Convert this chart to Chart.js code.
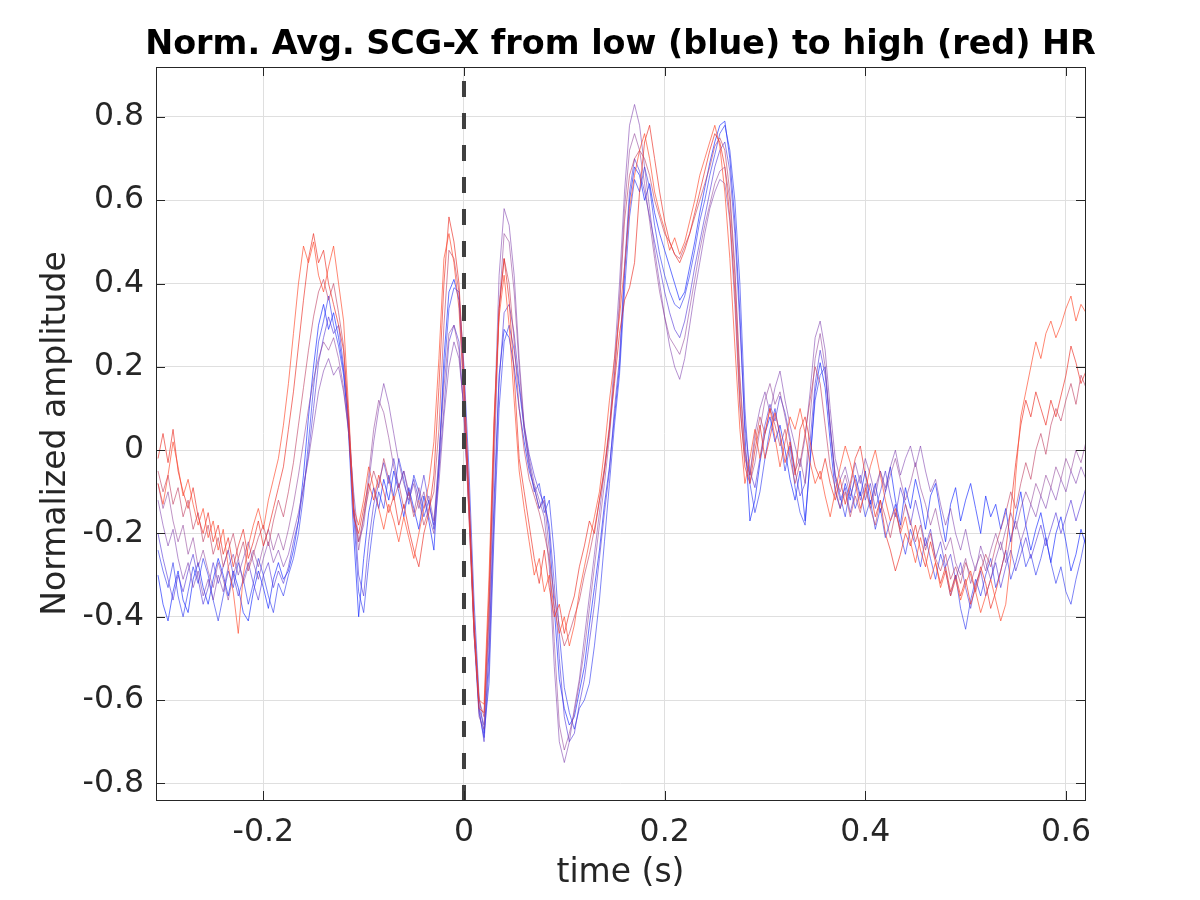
<!DOCTYPE html>
<html>
<head>
<meta charset="utf-8">
<script src="https://cdn.jsdelivr.net/npm/chart.js@4.4.1/dist/chart.umd.min.js"></script>
<style>
  html, body { margin: 0; padding: 0; background: #fff; }
  canvas { display: block; }
</style>
</head>
<body>
<canvas id="chart" width="1200" height="900"></canvas>
<script>
// sampling grid of the averaged beats (s)
const t0 = -0.305;
const dt = 0.005;

const titleText = "Norm. Avg. SCG-X from low (blue) to high (red) HR";
const xTicks = [-0.2, 0, 0.2, 0.4, 0.6];
const yTicks = [-0.8, -0.6, -0.4, -0.2, 0, 0.2, 0.4, 0.6, 0.8];

// low HR (blue) -> high HR (red)
const s0 = [
  -0.30,-0.37,-0.41,-0.34,-0.29,-0.36,-0.39,-0.31,-0.27,-0.33,
  -0.37,-0.31,-0.26,-0.30,-0.35,-0.29,-0.33,-0.39,-0.41,-0.34,
  -0.29,-0.33,-0.38,-0.31,-0.27,-0.31,-0.29,-0.24,-0.17,-0.06,
  0.08,0.20,0.30,0.35,0.29,0.33,0.27,0.19,0.04,-0.20,
  -0.40,-0.26,-0.15,-0.09,-0.14,-0.07,-0.12,-0.05,-0.10,-0.16,
  -0.09,-0.14,-0.19,-0.11,-0.17,-0.24,-0.04,0.22,0.38,0.41,
  0.36,0.14,-0.12,-0.44,-0.63,-0.69,-0.48,-0.12,0.18,0.29,
  0.27,0.20,0.10,0.02,-0.05,-0.09,-0.14,-0.11,-0.20,-0.38,
  -0.55,-0.62,-0.66,-0.64,-0.58,-0.52,-0.42,-0.33,-0.24,-0.13,
  -0.04,0.08,0.20,0.42,0.60,0.68,0.66,0.60,0.64,0.57,
  0.52,0.48,0.44,0.40,0.36,0.38,0.44,0.50,0.57,0.63,
  0.69,0.74,0.78,0.79,0.70,0.55,0.33,0.04,-0.17,-0.12,
  -0.03,0.04,0.08,0.02,0.06,0.00,-0.07,-0.12,-0.05,-0.17,
  -0.03,0.14,0.21,0.15,0.02,-0.10,-0.14,-0.08,-0.12,-0.06,
  -0.11,-0.05,-0.13,-0.08,-0.15,-0.10,-0.04,-0.12,-0.18,-0.09,
  -0.14,-0.07,-0.12,-0.19,-0.11,-0.08,-0.15,-0.22,-0.13,-0.09,
  -0.17,-0.12,-0.08,-0.14,-0.20,-0.11,-0.16,-0.13,-0.19,-0.14,
  -0.22,-0.16,-0.10,-0.18,-0.24,-0.19,-0.15,-0.21,-0.27,-0.20,
  -0.16,-0.22,-0.29,-0.25,-0.19,-0.23
];
const s1 = [
  -0.24,-0.29,-0.33,-0.27,-0.35,-0.40,-0.34,-0.28,-0.32,-0.26,
  -0.30,-0.36,-0.41,-0.35,-0.29,-0.33,-0.27,-0.31,-0.37,-0.32,
  -0.26,-0.30,-0.35,-0.39,-0.32,-0.35,-0.30,-0.26,-0.20,-0.11,
  0.02,0.15,0.26,0.31,0.37,0.30,0.25,0.18,0.06,-0.15,
  -0.34,-0.39,-0.27,-0.17,-0.10,-0.14,-0.06,-0.11,-0.02,-0.07,
  -0.13,-0.06,-0.10,-0.16,-0.12,-0.19,-0.02,0.18,0.34,0.39,
  0.38,0.20,-0.05,-0.36,-0.59,-0.68,-0.56,-0.20,0.10,0.26,
  0.30,0.24,0.15,0.05,-0.03,-0.10,-0.08,-0.15,-0.12,-0.25,
  -0.44,-0.57,-0.63,-0.67,-0.62,-0.60,-0.56,-0.47,-0.36,-0.22,
  -0.08,0.06,0.18,0.38,0.56,0.65,0.62,0.68,0.63,0.54,
  0.47,0.42,0.38,0.35,0.34,0.37,0.42,0.48,0.55,0.60,
  0.66,0.71,0.76,0.78,0.72,0.60,0.40,0.10,-0.08,-0.15,
  -0.10,-0.02,0.05,0.10,0.03,-0.05,0.01,-0.09,-0.15,-0.18,
  -0.02,0.12,0.18,0.20,0.05,-0.06,-0.11,-0.16,-0.09,-0.14,
  -0.10,-0.16,-0.12,-0.19,-0.14,-0.21,-0.17,-0.13,-0.20,-0.25,
  -0.19,-0.23,-0.28,-0.21,-0.26,-0.31,-0.25,-0.29,-0.35,-0.30,
  -0.38,-0.43,-0.36,-0.31,-0.35,-0.30,-0.26,-0.33,-0.29,-0.24,
  -0.31,-0.27,-0.22,-0.28,-0.25,-0.30,-0.26,-0.21,-0.27,-0.32,
  -0.28,-0.34,-0.37,-0.31,-0.26,-0.20
];
const s2 = [
  -0.20,-0.26,-0.31,-0.36,-0.30,-0.34,-0.29,-0.25,-0.31,-0.37,
  -0.33,-0.27,-0.32,-0.28,-0.24,-0.30,-0.35,-0.31,-0.27,-0.32,
  -0.36,-0.30,-0.27,-0.33,-0.29,-0.32,-0.28,-0.22,-0.17,-0.09,
  -0.01,0.10,0.21,0.27,0.32,0.28,0.30,0.20,0.08,-0.12,
  -0.30,-0.35,-0.22,-0.13,-0.08,-0.03,-0.08,-0.02,-0.09,-0.05,
  -0.11,-0.07,-0.12,-0.06,-0.13,-0.18,-0.05,0.10,0.26,0.30,
  0.26,0.08,-0.14,-0.42,-0.62,-0.70,-0.52,-0.16,0.16,0.33,
  0.35,0.28,0.16,0.06,-0.01,-0.06,-0.10,-0.13,-0.18,-0.32,
  -0.50,-0.64,-0.70,-0.68,-0.61,-0.55,-0.46,-0.37,-0.26,-0.15,
  -0.05,0.10,0.22,0.44,0.62,0.70,0.67,0.62,0.56,0.50,
  0.44,0.38,0.33,0.29,0.27,0.31,0.37,0.44,0.50,0.56,
  0.62,0.68,0.72,0.74,0.67,0.52,0.30,0.06,-0.05,-0.09,
  -0.02,0.06,0.11,0.07,0.13,0.09,0.03,-0.05,-0.11,-0.08,
  0.02,0.16,0.24,0.18,0.06,-0.07,-0.12,-0.09,-0.15,-0.10,
  -0.06,-0.12,-0.08,-0.14,-0.10,-0.05,-0.11,-0.16,-0.09,-0.13,
  -0.18,-0.12,-0.17,-0.23,-0.19,-0.26,-0.22,-0.28,-0.25,-0.31,
  -0.27,-0.33,-0.38,-0.32,-0.29,-0.35,-0.31,-0.27,-0.33,-0.28,
  -0.24,-0.29,-0.25,-0.21,-0.26,-0.22,-0.18,-0.23,-0.19,-0.15,
  -0.20,-0.16,-0.12,-0.17,-0.13,-0.09
];
const s3 = [
  -0.12,-0.18,-0.23,-0.19,-0.26,-0.31,-0.27,-0.33,-0.29,-0.35,
  -0.31,-0.36,-0.30,-0.34,-0.28,-0.25,-0.30,-0.26,-0.22,-0.27,
  -0.31,-0.26,-0.22,-0.27,-0.24,-0.28,-0.25,-0.20,-0.15,-0.09,
  -0.02,0.06,0.14,0.19,0.22,0.18,0.20,0.14,0.05,-0.10,
  -0.22,-0.18,-0.08,0.02,0.10,0.16,0.11,0.04,-0.03,-0.08,
  -0.12,-0.08,-0.14,-0.10,-0.16,-0.20,-0.08,0.08,0.20,0.26,
  0.22,0.10,-0.15,-0.42,-0.62,-0.66,-0.40,0.05,0.42,0.58,
  0.54,0.42,0.22,0.06,-0.02,-0.08,-0.12,-0.16,-0.28,-0.52,
  -0.70,-0.75,-0.70,-0.62,-0.55,-0.45,-0.35,-0.25,-0.15,-0.05,
  0.05,0.22,0.40,0.62,0.78,0.83,0.78,0.68,0.58,0.48,
  0.40,0.32,0.25,0.20,0.17,0.22,0.30,0.38,0.45,0.52,
  0.58,0.62,0.65,0.64,0.55,0.35,0.10,-0.02,-0.06,0.04,
  0.10,0.14,0.09,0.15,0.19,0.12,0.06,0.01,-0.04,0.03,
  0.14,0.27,0.31,0.24,0.10,-0.02,-0.07,-0.04,-0.09,-0.03,
  -0.08,-0.02,-0.06,-0.11,-0.05,-0.09,-0.04,0.00,-0.06,-0.02,
  0.01,-0.04,0.01,-0.05,-0.10,-0.07,-0.13,-0.18,-0.14,-0.20,
  -0.24,-0.19,-0.25,-0.29,-0.23,-0.27,-0.31,-0.26,-0.22,-0.27,
  -0.21,-0.17,-0.22,-0.18,-0.13,-0.16,-0.11,-0.14,-0.09,-0.12,
  -0.07,-0.10,-0.05,-0.08,-0.04,-0.07
];
const s4 = [
  -0.08,-0.14,-0.10,-0.17,-0.22,-0.18,-0.25,-0.21,-0.28,-0.24,
  -0.29,-0.33,-0.27,-0.31,-0.36,-0.30,-0.26,-0.32,-0.28,-0.24,
  -0.28,-0.23,-0.19,-0.24,-0.20,-0.24,-0.19,-0.13,-0.06,0.02,
  0.10,0.17,0.22,0.26,0.24,0.27,0.22,0.15,0.04,-0.14,
  -0.24,-0.16,-0.06,0.05,0.12,0.09,0.03,-0.04,-0.09,-0.05,
  -0.10,-0.15,-0.09,-0.14,-0.11,-0.17,-0.02,0.15,0.28,0.30,
  0.24,0.09,-0.16,-0.44,-0.64,-0.67,-0.44,-0.04,0.34,0.52,
  0.50,0.38,0.20,0.05,-0.04,-0.09,-0.14,-0.12,-0.24,-0.46,
  -0.66,-0.72,-0.68,-0.63,-0.56,-0.48,-0.38,-0.28,-0.18,-0.08,
  0.03,0.18,0.36,0.58,0.72,0.76,0.72,0.64,0.55,0.46,
  0.38,0.32,0.27,0.25,0.23,0.27,0.34,0.41,0.48,0.54,
  0.59,0.64,0.67,0.68,0.60,0.42,0.16,-0.01,-0.08,-0.03,
  0.05,0.12,0.16,0.11,0.14,0.08,0.02,-0.05,-0.02,-0.08,
  0.08,0.22,0.28,0.20,0.06,-0.06,-0.10,-0.06,-0.11,-0.07,
  -0.12,-0.08,-0.14,-0.09,-0.05,-0.10,-0.06,-0.02,-0.07,-0.12,
  -0.08,-0.03,-0.09,-0.13,-0.18,-0.14,-0.20,-0.24,-0.21,-0.27,
  -0.30,-0.26,-0.32,-0.28,-0.25,-0.29,-0.24,-0.20,-0.24,-0.19,
  -0.15,-0.19,-0.14,-0.10,-0.13,-0.08,-0.11,-0.06,-0.09,-0.04,
  -0.07,-0.02,-0.05,0.00,-0.03,0.02
];
const s5 = [
  -0.05,-0.10,-0.06,-0.13,-0.09,-0.16,-0.12,-0.19,-0.15,-0.22,
  -0.18,-0.25,-0.21,-0.28,-0.24,-0.20,-0.26,-0.22,-0.29,-0.25,
  -0.21,-0.18,-0.23,-0.17,-0.12,-0.16,-0.10,-0.03,0.06,0.15,
  0.24,0.32,0.38,0.41,0.36,0.40,0.33,0.25,0.08,-0.15,
  -0.22,-0.16,-0.10,-0.05,-0.09,-0.02,-0.07,-0.12,-0.08,-0.14,
  -0.10,-0.16,-0.12,-0.18,-0.14,-0.10,0.05,0.30,0.48,0.46,
  0.38,0.16,-0.10,-0.40,-0.60,-0.64,-0.38,0.02,0.34,0.46,
  0.40,0.26,0.10,0.00,-0.07,-0.11,-0.15,-0.20,-0.26,-0.35,
  -0.42,-0.47,-0.44,-0.40,-0.36,-0.30,-0.25,-0.19,-0.12,-0.04,
  0.06,0.18,0.34,0.55,0.66,0.70,0.72,0.70,0.66,0.60,
  0.56,0.52,0.50,0.47,0.46,0.49,0.52,0.56,0.60,0.64,
  0.68,0.73,0.75,0.72,0.62,0.44,0.18,0.00,-0.06,0.02,
  0.08,0.04,0.10,0.06,0.01,0.05,-0.02,-0.08,-0.03,0.04,
  0.12,0.20,0.16,0.06,-0.04,-0.09,-0.14,-0.10,-0.16,-0.11,
  -0.15,-0.09,-0.14,-0.18,-0.12,-0.16,-0.21,-0.15,-0.19,-0.13,
  -0.17,-0.22,-0.18,-0.24,-0.20,-0.26,-0.29,-0.25,-0.31,-0.28,
  -0.32,-0.27,-0.30,-0.34,-0.29,-0.25,-0.28,-0.23,-0.19,-0.15,
  -0.10,-0.14,-0.08,-0.03,-0.07,0.00,0.04,-0.01,0.06,0.10,
  0.07,0.12,0.16,0.11,0.18,0.15
];
const s6 = [
  -0.02,0.04,-0.03,0.05,-0.05,-0.10,-0.14,-0.09,-0.16,-0.20,
  -0.15,-0.22,-0.18,-0.25,-0.21,-0.28,-0.23,-0.19,-0.26,-0.22,
  -0.17,-0.23,-0.19,-0.14,-0.09,-0.04,0.05,0.14,0.25,0.36,
  0.46,0.52,0.45,0.48,0.40,0.35,0.30,0.24,0.06,-0.16,
  -0.20,-0.14,-0.08,-0.12,-0.06,-0.10,-0.15,-0.11,-0.18,-0.13,
  -0.19,-0.24,-0.28,-0.20,-0.15,-0.06,0.15,0.40,0.56,0.50,
  0.40,0.18,-0.12,-0.42,-0.62,-0.63,-0.34,0.06,0.34,0.46,
  0.36,0.18,-0.02,-0.10,-0.18,-0.26,-0.32,-0.24,-0.33,-0.40,
  -0.37,-0.44,-0.39,-0.35,-0.28,-0.23,-0.17,-0.20,-0.12,-0.05,
  0.05,0.16,0.28,0.36,0.39,0.45,0.62,0.74,0.78,0.70,
  0.62,0.55,0.50,0.47,0.45,0.48,0.52,0.57,0.62,0.67,
  0.72,0.76,0.74,0.68,0.56,0.38,0.12,-0.04,-0.08,0.00,
  0.06,-0.02,0.03,0.09,0.04,-0.03,0.02,-0.06,0.05,0.08,
  0.02,-0.04,-0.07,-0.02,-0.08,-0.12,-0.07,-0.13,-0.08,-0.02,
  0.01,-0.06,-0.10,-0.16,-0.12,-0.20,-0.24,-0.29,-0.25,-0.20,
  -0.23,-0.18,-0.24,-0.28,-0.22,-0.27,-0.32,-0.28,-0.34,-0.30,
  -0.35,-0.31,-0.37,-0.33,-0.28,-0.32,-0.38,-0.34,-0.29,-0.24,
  -0.14,-0.03,0.06,0.12,0.08,0.14,0.10,0.06,0.12,0.08,
  0.13,0.18,0.25,0.21,0.16,0.19
];
const s7 = [
  -0.08,-0.13,-0.06,0.02,-0.04,-0.11,-0.07,-0.13,-0.18,-0.14,
  -0.21,-0.17,-0.24,-0.19,-0.28,-0.34,-0.44,-0.30,-0.23,-0.18,
  -0.14,-0.19,-0.12,-0.07,-0.02,0.06,0.16,0.28,0.40,0.49,
  0.45,0.50,0.42,0.38,0.44,0.49,0.40,0.31,0.10,-0.14,
  -0.18,-0.12,-0.04,-0.09,-0.14,-0.19,-0.13,-0.17,-0.22,-0.16,
  -0.21,-0.26,-0.20,-0.14,-0.08,0.02,0.22,0.46,0.52,0.45,
  0.34,0.12,-0.16,-0.44,-0.60,-0.61,-0.30,0.08,0.32,0.42,
  0.30,0.12,-0.05,-0.14,-0.22,-0.30,-0.26,-0.34,-0.30,-0.38,
  -0.44,-0.40,-0.47,-0.42,-0.34,-0.28,-0.22,-0.16,-0.10,0.00,
  0.12,0.22,0.32,0.44,0.58,0.66,0.72,0.76,0.70,0.62,
  0.57,0.53,0.48,0.51,0.47,0.50,0.55,0.60,0.66,0.70,
  0.74,0.78,0.73,0.62,0.46,0.25,0.05,-0.08,-0.02,0.05,
  -0.02,0.04,0.10,0.03,-0.04,0.02,0.08,0.05,0.10,0.04,
  -0.03,-0.08,-0.05,-0.11,-0.16,-0.10,-0.04,0.01,-0.03,-0.08,
  -0.14,-0.10,-0.04,0.00,-0.06,-0.12,-0.17,-0.14,-0.20,-0.16,
  -0.22,-0.27,-0.21,-0.26,-0.31,-0.27,-0.33,-0.29,-0.35,-0.31,
  -0.36,-0.32,-0.29,-0.34,-0.39,-0.35,-0.31,-0.36,-0.41,-0.37,
  -0.26,-0.06,0.08,0.14,0.20,0.26,0.22,0.28,0.31,0.27,
  0.30,0.34,0.37,0.31,0.35,0.33
];

const series = [s0, s1, s2, s3, s4, s5, s6, s7];
const colors = [
  "rgba(20,40,255,0.65)",
  "rgba(40,50,240,0.6)",
  "rgba(80,50,215,0.6)",
  "rgba(120,55,170,0.55)",
  "rgba(140,60,150,0.55)",
  "rgba(190,60,95,0.6)",
  "rgba(235,45,35,0.65)",
  "rgba(255,70,40,0.65)",
];

const xMin = -0.307, xMax = 0.619;
const yMin = -0.84, yMax = 0.92;

const toPoints = (vals) => vals.map((v, i) => ({ x: +(t0 + i * dt).toFixed(3), y: v }));

const datasets = series.map((vals, k) => ({
  data: toPoints(vals),
  borderColor: colors[k],
  borderWidth: 1,
  pointRadius: 0,
  tension: 0,
  fill: false,
  order: series.length - k + 1,
}));

// beat onset marker
datasets.push({
  data: [{ x: 0, y: yMax }, { x: 0, y: yMin }],
  borderColor: "#404040",
  borderWidth: 4,
  borderDash: [16, 16],
  borderDashOffset: 18,
  pointRadius: 0,
  fill: false,
  order: 0,
});

// box round the axes, inward ticks and the title centred over the axes
const boxPlugin = {
  id: "box",
  afterDatasetsDraw(chart) {
    const { ctx, chartArea: a, scales } = chart;
    ctx.save();
    ctx.strokeStyle = "#262626";
    ctx.lineWidth = 1;
    ctx.strokeRect(Math.round(a.left) + 0.5, Math.round(a.top) + 0.5,
      Math.round(a.right - a.left), Math.round(a.bottom - a.top));
    ctx.beginPath();
    xTicks.forEach((v) => {
      const px = Math.round(scales.x.getPixelForValue(v)) + 0.5;
      ctx.moveTo(px, a.bottom); ctx.lineTo(px, a.bottom - 9);
      ctx.moveTo(px, a.top); ctx.lineTo(px, a.top + 9);
    });
    yTicks.forEach((v) => {
      const py = Math.round(scales.y.getPixelForValue(v)) + 0.5;
      ctx.moveTo(a.left, py); ctx.lineTo(a.left + 9, py);
      ctx.moveTo(a.right, py); ctx.lineTo(a.right - 9, py);
    });
    ctx.stroke();

    ctx.fillStyle = "#000";
    ctx.font = "bold 33.4px 'DejaVu Sans'";
    ctx.textAlign = "center";
    ctx.textBaseline = "middle";
    ctx.fillText(titleText, (a.left + a.right) / 2, a.top - 22);
    ctx.restore();
  },
};

const fmt = (v) => (Math.abs(v) < 1e-9 ? "0" : String(+v.toFixed(1)));

new Chart(document.getElementById("chart"), {
  type: "line",
  data: { datasets },
  plugins: [boxPlugin],
  options: {
    responsive: false,
    animation: false,
    events: [],
    layout: { padding: { left: 0, right: 115, top: 67, bottom: 0 } },
    plugins: {
      legend: { display: false },
      tooltip: { enabled: false },
      title: { display: false },
    },
    scales: {
      x: {
        type: "linear",
        min: xMin,
        max: xMax,
        afterFit: (s) => { s.height = 100; },
        ticks: {
          stepSize: 0.2,
          includeBounds: false,
          padding: 14,
          maxRotation: 0,
          color: "#262626",
          font: { family: "DejaVu Sans", size: 31.5 },
          callback: fmt,
        },
        grid: { color: "#dfdfdf", drawTicks: false },
        border: { display: false },
        title: {
          display: true,
          text: "time (s)",
          color: "#262626",
          font: { family: "DejaVu Sans", size: 33 },
          padding: { top: 0, bottom: 7 },
        },
      },
      y: {
        type: "linear",
        min: yMin,
        max: yMax,
        afterFit: (s) => { s.width = 156; },
        ticks: {
          stepSize: 0.2,
          includeBounds: false,
          padding: 12,
          color: "#262626",
          font: { family: "DejaVu Sans", size: 31.5 },
          callback: fmt,
        },
        grid: { color: "#dfdfdf", drawTicks: false },
        border: { display: false },
        title: {
          display: true,
          text: "Normalized amplitude",
          color: "#262626",
          font: { family: "DejaVu Sans", size: 33 },
          padding: { top: 37, bottom: 0 },
        },
      },
    },
  },
});
</script>
</body>
</html>
